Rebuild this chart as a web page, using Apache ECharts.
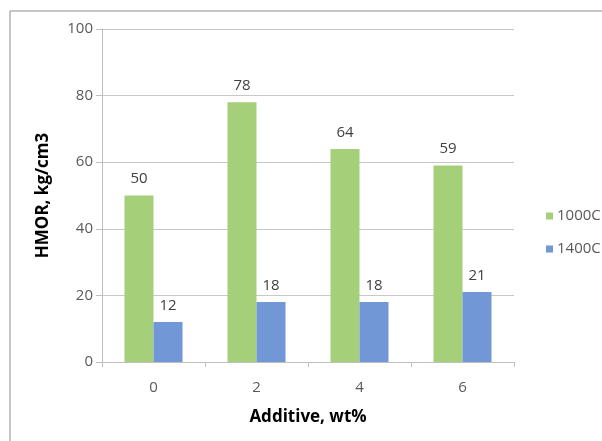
<!DOCTYPE html>
<html>
<head>
<meta charset="utf-8">
<script src="https://cdn.jsdelivr.net/npm/echarts@6/dist/echarts.min.js"></script>
<style>
  html, body { margin: 0; padding: 0; background: #fff; }
  #chart { width: 602px; height: 441px; }
</style>
</head>
<body>
<div id="chart"></div>
<script>
// Hot modulus of rupture by additive content
const categories = ['0', '2', '4', '6'];
const series1000C = [50, 78, 64, 59];
const series1400C = [12, 18, 18, 21];
const yTicks = [0, 20, 40, 60, 80, 100];

const textColor = '#595959';
const fontFamily = '"Open Sans", "Noto Sans", sans-serif';

const chart = echarts.init(document.getElementById('chart'), null, { renderer: 'canvas' });

const labelStyle = {
  show: true,
  position: 'top',
  distance: 9,
  color: '#404040',
  fontSize: 15,
  fontFamily: fontFamily
};

chart.setOption({
  animation: false,
  backgroundColor: '#fff',
  graphic: [{
    type: 'rect',
    shape: { x: 10, y: 11, width: 620, height: 460 },
    style: { fill: 'none', stroke: '#8c8c8c', lineWidth: 1 },
    silent: true
  }],
  grid: { left: 102, right: 88, top: 29, bottom: 79, containLabel: false },
  legend: {
    orient: 'vertical',
    left: 541,
    top: 203,
    itemWidth: 7,
    itemHeight: 7,
    itemGap: 17,
    icon: 'rect',
    textStyle: { color: textColor, fontSize: 15, lineHeight: 16, fontFamily: fontFamily, padding: [0, 0, 0, -1] },
    data: ['1000C', '1400C']
  },
  xAxis: {
    type: 'category',
    data: categories,
    name: 'Additive, wt%',
    nameLocation: 'middle',
    nameGap: 47,
    nameTextStyle: { color: '#000', fontSize: 17, fontWeight: 'bold', fontFamily: fontFamily },
    axisLine: { lineStyle: { color: '#bfbfbf' } },
    axisTick: { show: true, alignWithLabel: false, length: 5, lineStyle: { color: '#bfbfbf' } },
    axisLabel: { color: textColor, fontSize: 15, fontFamily: fontFamily, margin: 18 }
  },
  yAxis: {
    type: 'value',
    min: yTicks[0],
    max: yTicks[yTicks.length - 1],
    interval: 20,
    name: 'HMOR, kg/cm3',
    nameLocation: 'middle',
    nameGap: 50,
    nameTextStyle: { color: '#000', fontSize: 17, fontWeight: 'bold', fontFamily: fontFamily },
    axisLine: { show: true, lineStyle: { color: '#bfbfbf' } },
    axisTick: { show: true, length: 6, lineStyle: { color: '#bfbfbf' } },
    axisLabel: { color: textColor, fontSize: 15, fontFamily: fontFamily, margin: 9 },
    splitLine: { lineStyle: { color: '#c8c8c8' } }
  },
  series: [
    {
      name: '1000C',
      type: 'bar',
      data: series1000C,
      barWidth: 29,
      barGap: '0%',
      itemStyle: { color: '#a6cf7a' },
      label: labelStyle
    },
    {
      name: '1400C',
      type: 'bar',
      data: series1400C,
      barWidth: 29,
      barGap: '0%',
      itemStyle: { color: '#7297d6' },
      label: labelStyle
    }
  ]
});
</script>
</body>
</html>
